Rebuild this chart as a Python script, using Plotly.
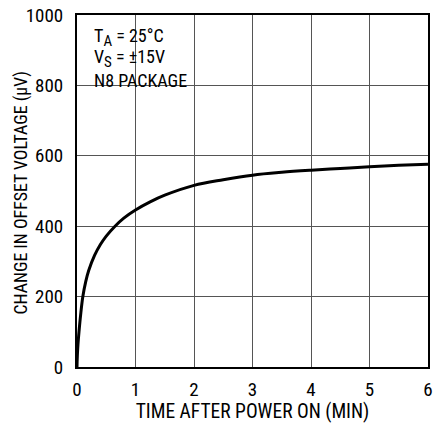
import plotly.graph_objects as go

time_min = [0, 0.002, 0.008, 0.017, 0.034, 0.0625, 0.1, 0.15, 0.2, 0.3, 0.4, 0.5, 0.65,
            0.8, 1.0, 1.25, 1.5, 2.0, 2.5, 3.0, 3.5, 4.0, 4.5, 5.0, 5.5, 6.0]
offset_uv = [0, 15, 40, 65, 100, 149, 200, 243, 274, 317, 348, 372, 400,
             423, 446, 469, 488, 516, 532, 545, 553, 559, 564, 569, 573, 576]

x_ticks = [0, 1, 2, 3, 4, 5, 6]
y_ticks = [0, 200, 400, 600, 800, 1000]

note_lines = ["T<sub><span style='font-size:15px'>A</span></sub> = 25°C",
              "V<sub><span style='font-size:15px'>S</span></sub> = ±15V",
              "N8 PACKAGE"]
note_y = [0.935, 0.877, 0.815]

x_title = "TIME AFTER POWER ON (MIN)"
y_title = "CHANGE IN OFFSET VOLTAGE (μV)"

FONT = "Liberation Sans Narrow, Arial Narrow, Roboto Condensed, Liberation Sans, sans-serif"

fig = go.Figure()
fig.add_trace(go.Scatter(x=time_min, y=offset_uv, mode="lines",
                         line=dict(color="black", width=3, shape="spline", smoothing=1.0),
                         hoverinfo="skip", showlegend=False))

fig.add_shape(type="rect", xref="paper", yref="paper", x0=0, x1=0.325, y0=0.784, y1=1,
              fillcolor="white", line=dict(width=0), layer="below")

for txt, yy in zip(note_lines, note_y):
    fig.add_annotation(xref="paper", yref="paper", x=0.042, y=yy, xanchor="left",
                       yanchor="middle", align="left", showarrow=False, text=txt,
                       font=dict(family=FONT, size=18, color="black"))

# y-axis title placed as rotated text
fig.add_annotation(xref="paper", yref="paper", x=-0.160, y=0.495, xanchor="center",
                   yanchor="middle", textangle=-90, showarrow=False, text=y_title,
                   font=dict(family=FONT, size=17.8, color="black"))

axis_common = dict(showline=True, linecolor="black", linewidth=2, mirror=True,
                   showgrid=True, gridcolor="#555555", gridwidth=1, zeroline=False,
                   ticks="", automargin=False,
                   tickfont=dict(family=FONT, size=19, color="black"))

fig.update_xaxes(range=[0, 6], tickvals=x_ticks, ticktext=[str(v) for v in x_ticks],
                 title_text=x_title, title_standoff=4,
                 title_font=dict(family=FONT, size=19.5, color="black"),
                 ticklabelstandoff=4, **axis_common)
fig.update_yaxes(range=[0, 1000], tickvals=y_ticks, ticktext=[str(v) for v in y_ticks],
                 ticklabelstandoff=8, **axis_common)

fig.update_layout(width=438, height=423, margin=dict(l=77, r=10, t=15, b=56),
                  plot_bgcolor="white", paper_bgcolor="white",
                  font=dict(family=FONT, color="black"))

fig.write_html("out.html", config={"displayModeBar": False},
               post_script="document.body.style.margin='0';")
